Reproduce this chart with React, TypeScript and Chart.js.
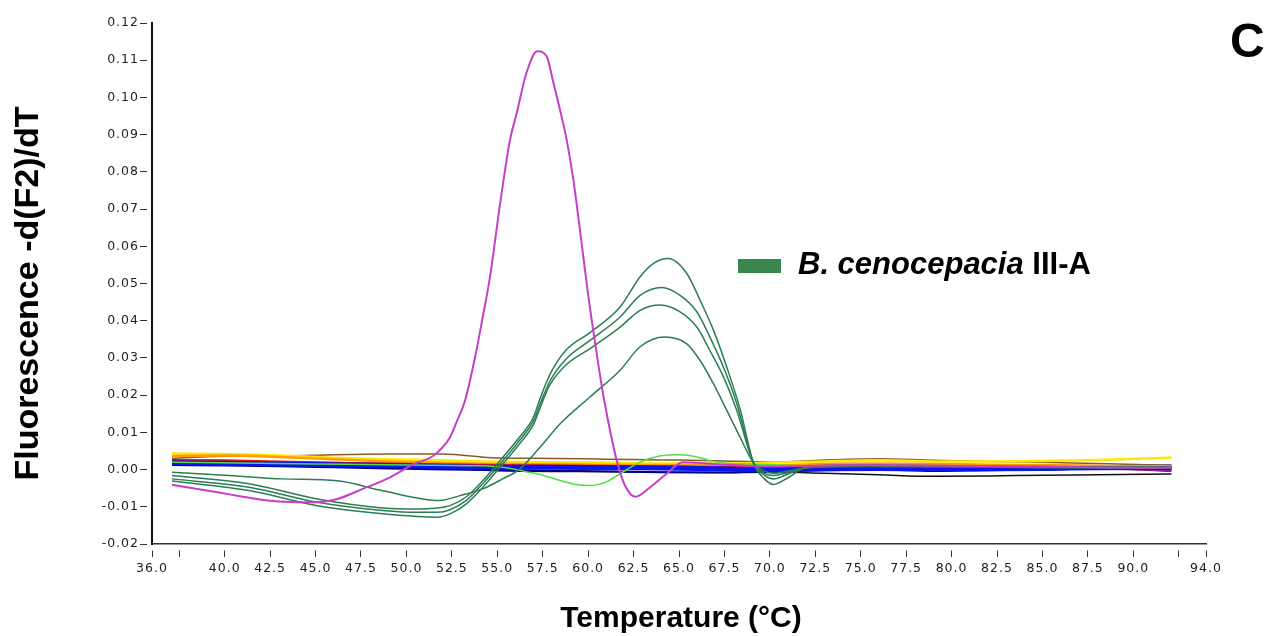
import React, { useEffect, useRef } from 'react';
import { Chart, registerables } from 'chart.js';

Chart.register(...registerables);

// ---------- axis ticks ----------
const xTickValues = [36, 37.5, 40, 42.5, 45, 47.5, 50, 52.5, 55, 57.5, 60, 62.5, 65, 67.5, 70, 72.5, 75, 77.5, 80, 82.5, 85, 87.5, 90, 92.5, 94];
const xTickLabels = ['36.0', '', '40.0', '42.5', '45.0', '47.5', '50.0', '52.5', '55.0', '57.5', '60.0', '62.5', '65.0', '67.5', '70.0', '72.5', '75.0', '77.5', '80.0', '82.5', '85.0', '87.5', '90.0', '', '94.0'];
const yTickValues = [-0.02, -0.01, 0, 0.01, 0.02, 0.03, 0.04, 0.05, 0.06, 0.07, 0.08, 0.09, 0.1, 0.11, 0.12];
const yTickLabels = ['-0.02', '-0.01', '0.00', '0.01', '0.02', '0.03', '0.04', '0.05', '0.06', '0.07', '0.08', '0.09', '0.10', '0.11', '0.12'];

// ---------- magenta sample ----------
const magentaT = [37.1, 38.5, 39.6, 41, 42, 43, 44.1, 45.2, 46.2, 47.6, 49.1, 50.4, 51.5, 52.4, 52.8, 53.23, 53.8, 54.2, 54.6, 55.15, 55.7, 56.07, 56.6, 57.2, 57.72, 58.09, 58.45, 58.82, 59.19, 59.55, 60.0, 60.5, 60.85, 61.4, 61.6, 62.0, 62.6, 63.4, 64.3, 65.2, 66, 68, 70, 75, 80, 85, 90, 92.1];
const magentaV = [-0.0041, -0.0052, -0.0061, -0.0073, -0.0081, -0.0086, -0.0088, -0.0087, -0.0079, -0.0052, -0.0021, 0.0015, 0.0038, 0.0087, 0.0132, 0.0186, 0.0307, 0.041, 0.0518, 0.0712, 0.0886, 0.0958, 0.1065, 0.1124, 0.111, 0.1039, 0.0967, 0.0886, 0.0778, 0.0644, 0.047, 0.0302, 0.0195, 0.006, 0.002, -0.004, -0.0073, -0.0048, -0.0012, 0.002, 0.0018, 0.0012, 0.0008, 0.0012, 0.001, 0.0008, 0.0005, 0.0005];

// ---------- B. cenocepacia III-A (dark green) ----------
const green1T = [37.1, 41.4, 45.1, 48.7, 50.6, 51.7, 52.4, 53.3, 54.2, 55.15, 56.07, 57.0, 57.35, 57.9, 58.8, 60.1, 61.76, 62.86, 63.6, 64.4, 65.43, 66.16, 66.9, 67.63, 68.36, 69.1, 69.7, 70.2, 71, 72, 75, 80, 85, 90, 92.1];
const green1V = [-0.0016, -0.0039, -0.0079, -0.0103, -0.0106, -0.0103, -0.0097, -0.0073, -0.003, 0.0024, 0.0078, 0.0142, 0.019, 0.0256, 0.0322, 0.0368, 0.0437, 0.0518, 0.0554, 0.0567, 0.0527, 0.0455, 0.0374, 0.0275, 0.0163, 0.0018, -0.0025, -0.004, -0.0022, 0.0006, 0.0012, 0.001, 0.0008, 0.0006, 0.0008];

const green2T = [37.1, 41.4, 45.1, 48.7, 50.6, 51.7, 52.4, 53.3, 54.2, 55.15, 56.07, 57.0, 57.35, 57.9, 58.8, 60.1, 61.76, 62.86, 64.05, 65.06, 65.98, 66.7, 67.45, 68.18, 69.1, 69.7, 70.2, 71, 72, 75, 80, 85, 90, 92.1];
const green2V = [-0.0025, -0.0048, -0.0088, -0.011, -0.0115, -0.0115, -0.0108, -0.0083, -0.0038, 0.0015, 0.0069, 0.0132, 0.0175, 0.0238, 0.0298, 0.0347, 0.041, 0.0468, 0.0489, 0.0468, 0.0424, 0.0356, 0.0275, 0.0177, 0.0018, -0.0015, -0.0025, -0.0012, 0.0005, 0.001, 0.0009, 0.0007, 0.0006, 0.0007];

const green3T = [37.1, 41.4, 45.1, 48.7, 50.6, 51.7, 52.4, 53.3, 54.2, 55.15, 56.07, 57.0, 57.35, 57.9, 58.8, 60.1, 61.76, 62.86, 63.96, 65.06, 65.98, 66.7, 67.45, 68.18, 69.1, 69.7, 70.2, 71, 72, 75, 80, 85, 90, 92.1];
const green3V = [-0.0031, -0.0057, -0.0097, -0.0119, -0.0126, -0.0128, -0.0119, -0.0092, -0.0048, 0.0006, 0.006, 0.0122, 0.0165, 0.0228, 0.0282, 0.0325, 0.0383, 0.0428, 0.0442, 0.0424, 0.0383, 0.032, 0.0249, 0.0159, 0.0018, -0.001, -0.0016, -0.0008, 0.0005, 0.0009, 0.0008, 0.0006, 0.0005, 0.0006];

const green4T = [37.1, 40, 43.2, 46.2, 48.7, 51.85, 52.95, 54.2, 55.3, 56.25, 57.35, 58.5, 60.1, 61.76, 62.86, 64.2, 65.43, 66.16, 66.9, 67.63, 68.36, 69.1, 69.7, 70.2, 71, 72, 75, 80, 85, 90, 92.1];
const green4V = [-0.0007, -0.0015, -0.0025, -0.003, -0.0057, -0.0083, -0.007, -0.0052, -0.0025, 0.0002, 0.006, 0.0125, 0.0195, 0.0267, 0.033, 0.0356, 0.0338, 0.0293, 0.023, 0.0159, 0.0087, 0.0018, -0.0004, -0.001, -0.0004, 0.0005, 0.0008, 0.0007, 0.0005, 0.0004, 0.0005];

// ---------- light green sample ----------
const lightGreenT = [37.1, 45, 50, 54, 55.5, 56.5, 57.5, 58.5, 59.3, 60.1, 61, 61.6, 62.86, 64, 65.06, 66, 66.7, 67.6, 69, 72, 80, 92.1];
const lightGreenV = [0.002, 0.0015, 0.0012, 0.001, 0.0005, -0.0005, -0.0015, -0.003, -0.004, -0.0043, -0.0033, -0.0016, 0.002, 0.0037, 0.004, 0.0034, 0.0024, 0.0017, 0.0015, 0.001, 0.001, 0.001];

// ---------- baseline (negative) samples ----------
const baseT = [37.1, 40, 43, 46, 49, 52, 55, 58, 61, 64, 67, 70, 73, 76, 79, 82, 85, 88, 92.1];
const brownV = [0.0030, 0.0036, 0.0036, 0.0040, 0.0042, 0.0042, 0.0031, 0.0030, 0.0028, 0.0026, 0.0024, 0.0020, 0.0026, 0.0029, 0.0025, 0.0022, 0.0020, 0.0016, 0.0012];
const yellowV = [0.0043, 0.0042, 0.0038, 0.0032, 0.0028, 0.0025, 0.0021, 0.0020, 0.0019, 0.0016, 0.0016, 0.0018, 0.0022, 0.0025, 0.0022, 0.0022, 0.0023, 0.0026, 0.0032];
const orangeV = [0.0036, 0.0038, 0.0034, 0.0028, 0.0022, 0.0018, 0.0015, 0.0015, 0.0013, 0.0012, 0.0012, 0.0011, 0.0015, 0.0016, 0.0015, 0.0013, 0.0012, 0.0010, 0.0006];
const redV = [0.0026, 0.0025, 0.0022, 0.0018, 0.0016, 0.0014, 0.0012, 0.0011, 0.0010, 0.0009, 0.0007, 0.0006, 0.0010, 0.0009, 0.0008, 0.0006, 0.0006, 0.0008, 0.0005];
const purpleV = [0.0021, 0.0020, 0.0019, 0.0018, 0.0016, 0.0014, 0.0012, 0.0010, 0.0008, 0.0006, 0.0006, 0.0008, 0.0009, 0.0006, 0.0007, 0.0008, 0.0000, 0.0003, -0.0004];
const cyanV = [0.0019, 0.0017, 0.0015, 0.0014, 0.0012, 0.0009, 0.0007, 0.0006, 0.0005, 0.0004, 0.0004, 0.0003, 0.0002, 0.0001, 0.0000, 0.0001, 0.0002, 0.0003, 0.0004];
const blueV = [0.0018, 0.0017, 0.0015, 0.0013, 0.0011, 0.0008, 0.0006, 0.0006, 0.0005, 0.0004, 0.0002, 0.0000, 0.0002, 0.0003, 0.0002, 0.0002, 0.0003, 0.0005, 0.0006];
const navyV = [0.0012, 0.0011, 0.0009, 0.0006, 0.0003, 0.0000, -0.0001, -0.0003, -0.0005, -0.0007, -0.0008, -0.0006, -0.0002, 0.0000, -0.0004, -0.0002, 0.0000, 0.0002, 0.0000];
const blackV = [0.0021, 0.0016, 0.0012, 0.0009, 0.0006, 0.0003, -0.0003, -0.0005, -0.0005, -0.0007, -0.0008, -0.0006, -0.0010, -0.0014, -0.0018, -0.0017, -0.0015, -0.0014, -0.0012];

const FONT = '"Liberation Sans", Arial, Helvetica, sans-serif';
const TICK_FONT = '"DejaVu Sans", Verdana, sans-serif';

const pts = (T: number[], V: number[]) => T.map((t, i) => ({ x: t, y: V[i] }));

const line = (label: string, T: number[], V: number[], color: string, width: number, tension: number) => ({
  label,
  data: pts(T, V),
  borderColor: color,
  backgroundColor: color,
  borderWidth: width,
  pointRadius: 0,
  fill: false,
  tension,
  cubicInterpolationMode: 'monotone' as const,
});

const decorPlugin = {
  id: 'decor',
  beforeDraw(chart: any) {
    (chart.ctx as any).letterSpacing = '1px';
  },
  afterDraw(chart: any) {
    const ctx = chart.ctx as CanvasRenderingContext2D;
    const area = chart.chartArea;
    ctx.save();
    (ctx as any).letterSpacing = '0px';
    ctx.fillStyle = '#000';

    // y axis title
    ctx.save();
    ctx.translate(38, (area.top + area.bottom) / 2 + 10);
    ctx.rotate(-Math.PI / 2);
    ctx.font = `bold 34px ${FONT}`;
    ctx.textAlign = 'center';
    ctx.textBaseline = 'alphabetic';
    ctx.fillText('Fluorescence -d(F2)/dT', 0, 0);
    ctx.restore();

    // x axis title
    ctx.font = `bold 30px ${FONT}`;
    ctx.textAlign = 'center';
    ctx.textBaseline = 'alphabetic';
    ctx.fillText('Temperature (°C)', (area.left + area.right) / 2 + 2, 627);

    // panel letter
    ctx.font = `bold 48px ${FONT}`;
    ctx.textAlign = 'left';
    ctx.fillText('C', 1230, 57);

    // legend
    ctx.fillStyle = '#3a8550';
    ctx.fillRect(738, 259, 43, 14);
    ctx.fillStyle = '#000';
    ctx.textAlign = 'left';
    ctx.font = `italic bold 31px ${FONT}`;
    const italicPart = 'B. cenocepacia';
    ctx.fillText(italicPart, 798, 274);
    const w = ctx.measureText(italicPart).width;
    ctx.font = `bold 31px ${FONT}`;
    ctx.fillText(' III-A', 798 + w, 274);

    ctx.restore();
  },
};

export default function App() {
  const canvasRef = useRef<HTMLCanvasElement | null>(null);

  useEffect(() => {
    if (!canvasRef.current) return;
    const datasets = [
      line('Sample magenta', magentaT, magentaV, '#c63fc8', 2, 0.4),
      line('B. cenocepacia III-A 1', green1T, green1V, '#2b7d55', 1.5, 0.4),
      line('B. cenocepacia III-A 2', green2T, green2V, '#2b7d55', 1.5, 0.4),
      line('B. cenocepacia III-A 3', green3T, green3V, '#2b7d55', 1.5, 0.4),
      line('B. cenocepacia III-A 4', green4T, green4V, '#2b7d55', 1.5, 0.4),
      line('Sample light green', lightGreenT, lightGreenV, '#55dd44', 1.5, 0.4),
      line('Blue', baseT, blueV, '#0a14ee', 5, 0.2),
      line('Red', baseT, redV, '#ee1111', 2, 0.2),
      line('Orange', baseT, orangeV, '#ff9a00', 2.5, 0.2),
      line('Yellow', baseT, yellowV, '#ffe800', 2.5, 0.2),
      line('Cyan', baseT, cyanV, '#22b8c8', 1.5, 0.2),
      line('Purple', baseT, purpleV, '#8a1a9a', 2, 0.2),
      line('Brown', baseT, brownV, '#8b5a2b', 1.5, 0.2),
      line('Navy', baseT, navyV, '#000088', 2, 0.2),
      line('Black', baseT, blackV, '#111111', 1.5, 0.2),
    ];

    const chart = new Chart(canvasRef.current, {
      type: 'line',
      data: { datasets },
      plugins: [decorPlugin],
      options: {
        animation: false,
        responsive: false,
        events: [],
        layout: { padding: { left: 0, top: 23, right: 77, bottom: 0 } },
        plugins: {
          legend: { display: false },
          tooltip: { enabled: false },
          title: { display: false },
        },
        scales: {
          x: {
            type: 'linear',
            min: 36,
            max: 94,
            afterFit: (scale: any) => { scale.height = 92; },
            afterBuildTicks: (scale: any) => { scale.ticks = xTickValues.map((v) => ({ value: v })); },
            ticks: {
              autoSkip: false,
              maxRotation: 0,
              minRotation: 0,
              padding: 4,
              color: '#222',
              font: { family: TICK_FONT, size: 12.5 },
              callback: (_v: any, i: number) => xTickLabels[i],
            },
            grid: {
              drawOnChartArea: false,
              drawTicks: true,
              tickLength: 13,
              tickColor: '#333',
              tickWidth: 1,
              tickBorderDash: [7, 6],
              tickBorderDashOffset: 7,
            },
            border: { display: true, color: '#333', width: 1.5 },
          },
          y: {
            type: 'linear',
            min: -0.02,
            max: 0.12,
            afterFit: (scale: any) => { scale.width = 152; },
            afterBuildTicks: (scale: any) => { scale.ticks = yTickValues.map((v) => ({ value: v })); },
            ticks: {
              autoSkip: false,
              padding: 1,
              color: '#222',
              font: { family: TICK_FONT, size: 12.5 },
              callback: (_v: any, i: number) => yTickLabels[i],
            },
            grid: {
              drawOnChartArea: false,
              drawTicks: true,
              tickLength: 12,
              tickColor: '#333',
              tickWidth: 1,
              tickBorderDash: [7, 12],
            },
            border: { display: true, color: '#111', width: 2 },
          },
        },
      } as any,
    });
    return () => chart.destroy();
  }, []);

  return (
    <div style={{ position: 'absolute', left: 0, top: 0, width: 1283, height: 636, background: '#fff' }}>
      <canvas ref={canvasRef} width={1283} height={636} style={{ display: 'block', width: 1283, height: 636 }} />
    </div>
  );
}
